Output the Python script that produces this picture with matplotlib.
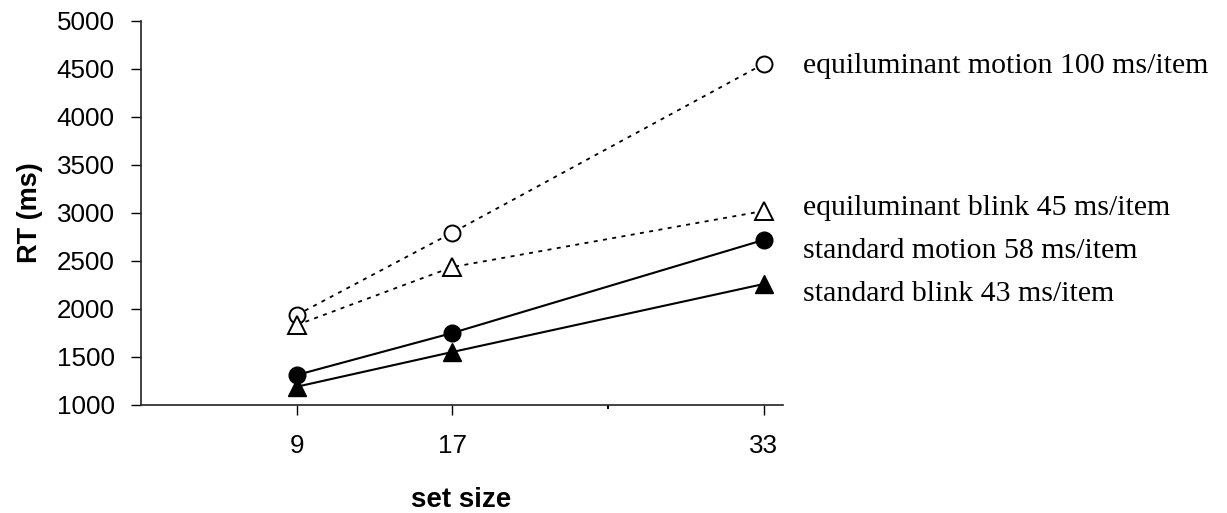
import matplotlib
matplotlib.use('Agg')
import matplotlib.pyplot as plt

set_size = [9, 17, 33]

eq_motion = [1937, 2795, 4552]
eq_blink = [1833, 2437, 3021]
std_motion = [1312, 1750, 2719]
std_blink = [1190, 1552, 2260]

series_labels = ['equiluminant motion 100 ms/item',
                 'equiluminant blink 45 ms/item',
                 'standard motion 58 ms/item',
                 'standard blink 43 ms/item']

y_ticks = [1000, 1500, 2000, 2500, 3000, 3500, 4000, 4500, 5000]
x_ticks = [9, 17, 33]

plt.rcParams['font.family'] = ['Liberation Sans', 'DejaVu Sans']

fig = plt.figure(figsize=(12.27, 5.13), dpi=100)
ax = fig.add_axes([141/1227, 1-405/513, (783-141)/1227, (405-21)/513])

dot = (0, (2.2, 3.0))
ax.plot(set_size, eq_motion, color='black', lw=1.3, ls=dot, marker='o', ms=11.5,
        mfc='white', mec='black', mew=1.4, clip_on=False, zorder=3)
ax.plot(set_size, eq_blink, color='black', lw=1.3, ls=dot, marker='^', ms=13.5,
        mfc='white', mec='black', mew=1.4, clip_on=False, zorder=3)
ax.plot(set_size, std_motion, color='black', lw=1.5, ls='-', marker='o', ms=12,
        mfc='black', mec='black', clip_on=False, zorder=4)
ax.plot(set_size, std_blink, color='black', lw=1.5, ls='-', marker='^', ms=13.5,
        mfc='black', mec='black', clip_on=False, zorder=4)

ax.set_xlim(1, 34)
ax.set_ylim(1000, 5000)
ax.set_yticks(y_ticks)
ax.set_xticks(x_ticks)
ax.set_xticks([25], minor=True)
ax.tick_params(axis='y', labelsize=18.7, length=7, width=1, direction='out', pad=12)
ax.tick_params(axis='x', which='major', labelsize=18.7, length=7, width=1, direction='out', pad=14)
ax.tick_params(axis='x', which='minor', length=3, width=1.5)

for s in ['top', 'right']:
    ax.spines[s].set_visible(False)
for s in ['left', 'bottom']:
    ax.spines[s].set_linewidth(1.2)
    ax.spines[s].set_color('#222222')

fig.text(461/1227, 1-500/513, 'set size', ha='center', va='center',
         fontsize=20, fontweight='bold')
fig.text(30/1227, 1-213/513, 'RT (ms)', ha='center', va='center',
         rotation=90, fontsize=19.5, fontweight='bold')

# baselines of the right-hand labels, in pixels from the top
label_px = [73, 215, 258, 301]
for lab, py in zip(series_labels, label_px):
    fig.text(803/1227, 1-py/513, lab, ha='left', va='baseline',
             fontsize=21.5, family=['Liberation Serif', 'DejaVu Serif'])

fig.savefig('out.png', dpi=100)
